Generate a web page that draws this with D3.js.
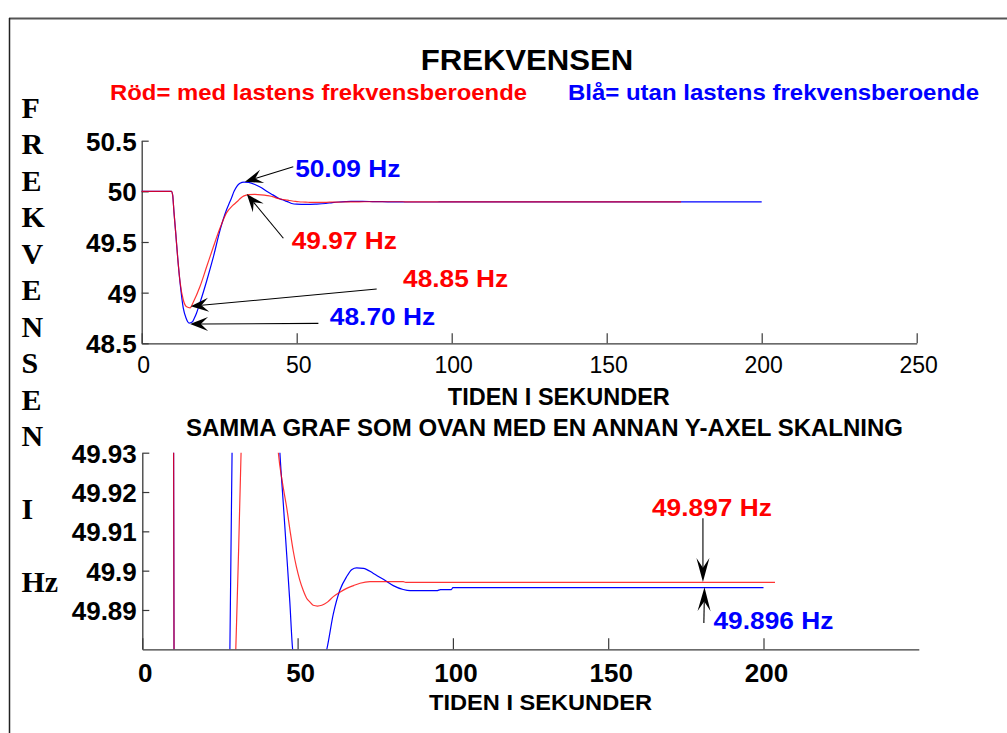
<!DOCTYPE html>
<html><head><meta charset="utf-8">
<script src="https://cdn.jsdelivr.net/npm/d3@7"></script>
<style>body{margin:0;background:#fff;overflow:hidden}</style>
</head><body>
<svg id="c" width="1007" height="733"></svg>
<script>
// ---------- DATA ----------
const redT = [0, 9.6, 10.0, 10.4, 11.0, 11.6, 12.4, 13.4, 14.5, 15.6, 16.7, 18.8, 21.0, 23.1, 25.3, 27.4, 29.0, 30.1, 31.0, 31.8, 33.0, 34.5, 36.5, 38.5, 40.5, 42.5, 43.8, 45.2, 46.5, 47.6, 48.6, 49.6, 50.7, 51.8, 52.9, 54.0, 55.0, 56.4, 57.8, 59.6, 61.5, 63.6, 65.8, 68.0, 70.1, 73.3, 84.0, 84.8, 128, 203.7];
const redF = [50.0, 50.0, 49.96, 49.80, 49.58, 49.35, 49.10, 48.93, 48.86, 48.85, 48.91, 49.06, 49.26, 49.45, 49.64, 49.79, 49.85, 49.88, 49.905, 49.93, 49.955, 49.968, 49.970, 49.966, 49.958, 49.945, 49.93, 49.922, 49.916, 49.910, 49.905, 49.901, 49.8976, 49.895, 49.893, 49.892, 49.8912, 49.891, 49.8912, 49.892, 49.8934, 49.8945, 49.8955, 49.8962, 49.8968, 49.8972, 49.8972, 49.897, 49.897, 49.897];
const blueT = [0, 9.6, 10.0, 10.4, 11.0, 11.6, 12.4, 13.4, 14.3, 15.3, 16.3, 17.0, 17.7, 18.8, 21.0, 23.1, 25.3, 27.4, 28.2, 28.9, 29.8, 30.7, 31.7, 33.0, 34.5, 36.5, 38.5, 40.3, 42.3, 44.3, 45.4, 46.5, 47.5, 48.4, 50.0, 53.0, 56.0, 59.4, 61.5, 63.6, 65.8, 67.5, 69.0, 71.2, 74.4, 77.6, 80.8, 84.0, 86.2, 94.8, 96.0, 99.5, 100.0, 200];
const blueF = [50.0, 50.0, 49.96, 49.80, 49.58, 49.35, 49.09, 48.85, 48.75, 48.70, 48.71, 48.75, 48.80, 48.90, 49.12, 49.35, 49.62, 49.82, 49.88, 49.93, 50.0, 50.05, 50.08, 50.092, 50.088, 50.068, 50.038, 50.0, 49.965, 49.93, 49.917, 49.904, 49.892, 49.88, 49.874, 49.872, 49.874, 49.88, 49.889, 49.895, 49.8985, 49.9003, 49.9007, 49.9006, 49.8993, 49.8978, 49.8962, 49.8952, 49.8949, 49.8949, 49.8952, 49.8952, 49.8957, 49.8957];
const redTopEnd = 174;

const topXTicks = [0, 50, 100, 150, 200, 250];
const topYTicks = [48.5, 49, 49.5, 50, 50.5];
const topYLabels = ["48.5", "49", "49.5", "50", "50.5"];
const botXTicks = [0, 50, 100, 150, 200];
const botYTicks = [49.89, 49.90, 49.91, 49.92, 49.93];
const botYLabels = ["49.89", "49.9", "49.91", "49.92", "49.93"];

const titleText = "FREKVENSEN";
const legendRed = "Röd= med lastens frekvensberoende";
const legendBlue = "Blå= utan lastens frekvensberoende";
const xLabelText = "TIDEN I SEKUNDER";
const subTitleText = "SAMMA GRAF SOM OVAN MED EN ANNAN Y-AXEL SKALNING";
const yLabelChars = ["F","R","E","K","V","E","N","S","E","N","","I","","Hz"];

// annotations: [label, series, tip(t,f), tail(t,f), text anchor point(t,f)]
const topNotes = [
  ["50.09 Hz", "blue", [33.3, 50.095], [48.9, 50.243], [49.5, 50.145]],
  ["49.97 Hz", "red",  [33.9, 49.974], [45.7, 49.537], [48.4, 49.428]],
  ["48.85 Hz", "red",  [15.8, 48.865], [75.8, 49.036], [84.3, 49.059]],
  ["48.70 Hz", "blue", [15.6, 48.69],  [57.0, 48.697], [60.7, 48.68]]
];
const botNotes = [
  ["49.897 Hz", "red",  [180.5, 49.8971], [180.5, 49.9133], [164.1, 49.914]],
  ["49.896 Hz", "blue", [181.0, 49.8958], [180.8, 49.8867], [183.9, 49.8851]]
];

// ---------- DRAW ----------
const svg = d3.select("#c");
const SANS = "'Liberation Sans', Arial, Helvetica, sans-serif";
const SERIF = "'Liberation Serif', 'Times New Roman', serif";
const COL = {red: "#ff0000", blue: "#0000ff"};
const AX = "#3a3a3a";

function fit(sel, w) { sel.attr("textLength", w).attr("lengthAdjust", "spacingAndGlyphs"); return sel; }
function stretch(sel, k) { sel.each(function(){ const L = this.getComputedTextLength(); d3.select(this).attr("textLength", L*k).attr("lengthAdjust","spacingAndGlyphs"); }); }

// frame
svg.append("line").attr("x1", 9).attr("x2", 1007).attr("y1", 18.5).attr("y2", 18.5).attr("stroke", "#555").attr("stroke-width", 2);
svg.append("line").attr("x1", 9.5).attr("x2", 9.5).attr("y1", 18).attr("y2", 733).attr("stroke", "#222").attr("stroke-width", 1.5);

// title + legend
fit(svg.append("text").attr("x", 420.7).attr("y", 70).attr("font-family", SANS).attr("font-weight", "bold").attr("font-size", 30).attr("fill", "#000").text(titleText), 212.6);
fit(svg.append("text").attr("x", 110).attr("y", 100).attr("font-family", SANS).attr("font-weight", "bold").attr("font-size", 22).attr("fill", COL.red).text(legendRed), 417);
fit(svg.append("text").attr("x", 568).attr("y", 100).attr("font-family", SANS).attr("font-weight", "bold").attr("font-size", 22).attr("fill", COL.blue).text(legendBlue), 411);

// vertical y label
const yl = svg.append("g").attr("font-family", SERIF).attr("font-weight", "bold").attr("font-size", 30).attr("fill", "#000");
yl.selectAll("text").data(yLabelChars).join("text")
  .attr("x", 21.5).attr("y", (d, i) => 117.5 + i * 36.5).text(d => d);

// scales
const xTop = d3.scaleLinear().domain([0, 250]).range([141.7, 916.7]);
const yTop = d3.scaleLinear().domain([48.5, 50.5]).range([343.3, 140.7]);
const xBot = d3.scaleLinear().domain([0, 250]).range([142.3, 918.8]);
const yBot = d3.scaleLinear().domain([49.88, 49.93]).range([649.3, 452.7]);

function styleAxis(g) {
  g.selectAll("path.domain").attr("stroke", AX).attr("stroke-width", 1.3);
  g.selectAll(".tick line").attr("stroke", AX).attr("stroke-width", 1.2);
  g.selectAll("text").attr("fill", "#000").attr("font-family", SANS);
}

// top axes
const gxT = svg.append("g").attr("transform", `translate(0,${yTop(48.5)})`)
  .call(d3.axisBottom(xTop).tickValues(topXTicks).tickFormat(d3.format("d")).tickSizeInner(-10).tickSizeOuter(0));
styleAxis(gxT);
gxT.selectAll("text").attr("font-size", 23).attr("font-weight", "normal").attr("y", 29.7).attr("dy", null).attr("x", 1.5);

const gyT = svg.append("g").attr("transform", `translate(${xTop(0)},0)`)
  .call(d3.axisLeft(yTop).tickValues(topYTicks).tickFormat((d, i) => topYLabels[i]).tickSizeInner(-7).tickSizeOuter(0).tickPadding(5));
styleAxis(gyT);
gyT.selectAll("text").attr("font-size", 26).attr("font-weight", "bold").attr("dy", "0.36em");

svg.append("text").attr("x", 447.8).attr("y", 405).attr("font-family", SANS).attr("font-weight", "bold").attr("font-size", 23).attr("fill", "#000").text(xLabelText).call(s => fit(s, 222));

// top lines
const lineTop = d3.line().x(d => xTop(d[0])).y(d => yTop(d[1])).curve(d3.curveMonotoneX);
const bluePts = blueT.map((t, i) => [t, blueF[i]]);
const redPts = redT.map((t, i) => [t, redF[i]]);
const redTopPts = redPts.filter(d => d[0] <= redTopEnd);
redTopPts.push([redTopEnd, redTopPts[redTopPts.length - 1][1]]);

svg.append("path").attr("d", lineTop(bluePts)).attr("fill", "none").attr("stroke", COL.blue).attr("stroke-width", 1.2);
svg.append("path").attr("d", lineTop(redTopPts)).attr("fill", "none").attr("stroke", COL.red).attr("stroke-width", 1.2).attr("stroke-opacity", 0.8);

// bottom
fit(svg.append("text").attr("x", 186).attr("y", 435.7).attr("font-family", SANS).attr("font-weight", "bold").attr("font-size", 24).attr("fill", "#000").text(subTitleText), 717);

svg.append("clipPath").attr("id", "clipB").append("rect")
  .attr("x", xBot(0)).attr("y", yBot(49.93)).attr("width", xBot(250) - xBot(0)).attr("height", yBot(49.88) - yBot(49.93));

const lineBot = d3.line().x(d => xBot(d[0])).y(d => yBot(d[1])).curve(d3.curveMonotoneX);
const gl = svg.append("g").attr("clip-path", "url(#clipB)");
gl.append("path").attr("d", lineBot(bluePts)).attr("fill", "none").attr("stroke", COL.blue).attr("stroke-width", 1.2);
gl.append("path").attr("d", lineBot(redPts)).attr("fill", "none").attr("stroke", COL.red).attr("stroke-width", 1.2).attr("stroke-opacity", 0.8);

const gxB = svg.append("g").attr("transform", `translate(0,${yBot(49.88)})`)
  .call(d3.axisBottom(xBot).tickValues(botXTicks).tickFormat(d3.format("d")).tickSizeInner(-11).tickSizeOuter(0));
styleAxis(gxB);
gxB.selectAll("text").attr("font-size", 26).attr("font-weight", "bold").attr("y", 32.5).attr("dy", null).attr("x", 2.5);

const gyB = svg.append("g").attr("transform", `translate(${xBot(0)},0)`)
  .call(d3.axisLeft(yBot).tickValues(botYTicks).tickFormat((d, i) => botYLabels[i]).tickSizeInner(-7).tickSizeOuter(0).tickPadding(5.5));
styleAxis(gyB);
gyB.selectAll("text").attr("font-size", 26).attr("font-weight", "bold").attr("dy", "0.36em");

svg.append("text").attr("x", 429).attr("y", 710).attr("font-family", SANS).attr("font-weight", "bold").attr("font-size", 22).attr("fill", "#000").text(xLabelText).call(s => fit(s, 223));

// annotations
function arrow(g, p0, p1, L, W) {
  const [x0, y0] = p0, [x1, y1] = p1;
  const a = Math.atan2(y1 - y0, x1 - x0);
  const c = Math.cos(a), s = Math.sin(a);
  const pt = (u, v) => [x1 + u * c - v * s, y1 + u * s + v * c];
  const base = pt(-L * 0.6, 0);
  g.append("line").attr("x1", x0).attr("y1", y0).attr("x2", base[0]).attr("y2", base[1])
    .attr("stroke", "#000").attr("stroke-width", 1.1);
  const pts = [pt(0, 0), pt(-L, W / 2), pt(-L * 0.6, 0), pt(-L, -W / 2)];
  g.append("path").attr("d", "M" + pts.map(p => p.join(",")).join("L") + "Z").attr("fill", "#000");
}
function notes(list, x, y, L, W) {
  const g = svg.append("g");
  list.forEach(n => {
    arrow(g, [x(n[3][0]), y(n[3][1])], [x(n[2][0]), y(n[2][1])], L, W);
    const t = g.append("text").attr("x", x(n[4][0])).attr("y", y(n[4][1]))
      .attr("font-family", SANS).attr("font-weight", "bold").attr("font-size", 24)
      .attr("fill", COL[n[1]]).text(n[0]);
    stretch(t, 1.095);
  });
}
notes(topNotes, xTop, yTop, 18, 14);
notes(botNotes, xBot, yBot, 24, 13);
</script>
</body></html>
